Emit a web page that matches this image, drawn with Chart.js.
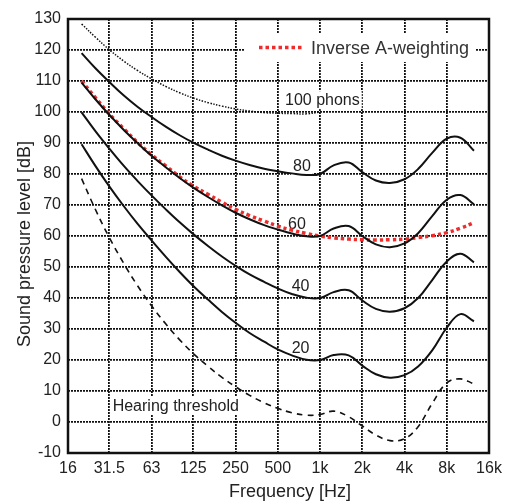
<!DOCTYPE html>
<html lang="en">
<head>
<meta charset="UTF-8">
<title>Equal-loudness contours</title>
<style>
  body { margin: 0; background: #fff; }
  #wrap { width: 508px; height: 502px; }
</style>
</head>
<body>
<div id="wrap"><canvas id="chart" width="508" height="502"></canvas></div>
<script src="https://cdn.jsdelivr.net/npm/chart.js"></script>
<script>
// frequencies (Hz) of the contour points
const freqs = [20, 25, 31.5, 40, 50, 63, 80, 100, 125, 160, 200, 250, 315, 400, 500, 630, 800,
               1000, 1250, 1600, 2000, 2500, 3150, 4000, 5000, 6300, 8000, 10000, 12500];

// sound pressure level (dB) per contour
const phon100 = [128.4, 124.2, 120.1, 116.4, 113.4, 110.7, 108.2, 106.2, 104.5, 103.0, 101.9, 101.0,
                 100.3, 99.8, 99.6, 99.5, 99.4, 100.0];
const phon80 = [119.0, 114.2, 109.7, 105.3, 101.7, 98.4, 95.2, 92.5, 90.1, 87.8, 85.9, 84.3, 82.9, 81.7,
                80.9, 80.2, 79.7, 80.0, 82.8, 83.7, 80.6, 77.9, 77.1, 78.3, 81.6, 86.8, 91.4, 91.7, 87.5];
const phon60 = [109.5, 104.2, 99.1, 94.2, 90.0, 85.9, 82.1, 78.7, 75.6, 72.5, 69.9, 67.5, 65.4, 63.5,
                62.1, 60.8, 59.9, 60.0, 62.4, 63.2, 60.0, 57.3, 56.4, 57.6, 60.9, 66.4, 71.7, 73.2, 70.2];
const phon40 = [99.9, 93.9, 88.2, 82.6, 77.8, 73.1, 68.5, 64.4, 60.6, 56.7, 53.4, 50.4, 47.6, 45.2,
                43.1, 41.3, 40.1, 40.0, 41.9, 42.5, 39.2, 36.5, 35.6, 36.7, 40.0, 45.8, 51.8, 54.3, 51.5];
const phon20 = [89.6, 82.7, 76.0, 69.6, 64.0, 58.6, 53.2, 48.4, 43.9, 39.4, 35.5, 32.0, 28.7, 25.9,
                23.4, 21.5, 20.1, 20.0, 21.6, 21.5, 18.2, 15.4, 14.3, 15.1, 17.9, 23.1, 30.4, 34.8, 32.5];
const threshold = [78.5, 68.7, 59.5, 51.1, 44.0, 37.5, 31.5, 26.5, 22.1, 17.9, 14.4, 11.4, 8.6, 6.2,
                   4.4, 3.0, 2.2, 2.4, 3.5, 1.7, -1.3, -4.2, -6.0, -5.4, -1.5, 6.0, 12.6, 13.9, 12.3];
const inverseA = [110.0, 104.7, 99.4, 94.6, 90.2, 86.2, 82.5, 79.1, 76.1, 73.4, 70.9, 68.6, 66.6, 64.8,
                  63.2, 61.9, 60.8, 60.0, 59.4, 59.0, 58.8, 58.7, 58.8, 59.0, 59.5, 60.1, 61.1, 62.5, 64.3];

const xTicks = [16, 31.5, 63, 125, 250, 500, 1000, 2000, 4000, 8000, 16000];
const xTickLabels = ['16', '31.5', '63', '125', '250', '500', '1k', '2k', '4k', '8k', '16k'];

// in-plot labels, anchored at (frequency, dB) of their left baseline
const curveLabels = [
  { text: '100 phons', f: 563, db: 102.2 },
  { text: '80', f: 642, db: 81.0 },
  { text: '60', f: 592, db: 62.2 },
  { text: '40', f: 628, db: 42.4 },
  { text: '20', f: 628, db: 22.2 },
  { text: 'Hearing threshold', f: 33.3, db: 3.65 }
];

const FONT = "'Liberation Sans', Arial, sans-serif";
const INK = '#222';

function pts(vals) {
  return vals.map((v, i) => ({ x: freqs[i], y: v }));
}

function line(vals, opts) {
  return Object.assign({
    data: pts(vals),
    borderColor: '#111',
    borderWidth: 2,
    pointRadius: 0,
    tension: 0.4,
    fill: false
  }, opts);
}

const decor = {
  id: 'decor',
  beforeDatasetsDraw(chart) {
    const { ctx, scales: { x, y } } = chart;
    ctx.save();
    ctx.font = '16px ' + FONT;
    ctx.textBaseline = 'alphabetic';
    curveLabels.forEach(l => {
      const px = x.getPixelForValue(l.f);
      const py = y.getPixelForValue(l.db);
      const w = ctx.measureText(l.text).width;
      ctx.fillStyle = '#fff';
      ctx.fillRect(px - 2, py - 14, w + 4, 18);
      ctx.fillStyle = INK;
      ctx.fillText(l.text, px, py);
    });

    // legend
    ctx.fillStyle = '#fff';
    ctx.fillRect(244, 33, 231, 29);
    ctx.strokeStyle = '#ee2c2c';
    ctx.lineWidth = 3.5;
    ctx.setLineDash([3.5, 3]);
    ctx.beginPath();
    ctx.moveTo(259, 47.5);
    ctx.lineTo(304, 47.5);
    ctx.stroke();
    ctx.setLineDash([]);
    ctx.fillStyle = '#333';
    ctx.font = '18px ' + FONT;
    ctx.fillText('Inverse A-weighting', 311, 54.3);
    ctx.restore();
  },
  afterDraw(chart) {
    const { ctx, chartArea: a } = chart;
    ctx.save();
    ctx.strokeStyle = '#111';
    ctx.lineWidth = 2.5;
    ctx.strokeRect(a.left, a.top, a.right - a.left, a.bottom - a.top);

    ctx.fillStyle = INK;
    ctx.font = '18px ' + FONT;
    ctx.textAlign = 'center';
    ctx.textBaseline = 'alphabetic';
    ctx.fillText('Frequency [Hz]', 290, 497);
    ctx.translate(30, 244);
    ctx.rotate(-Math.PI / 2);
    ctx.fillText('Sound pressure level [dB]', 0, 0);
    ctx.restore();
  }
};

new Chart(document.getElementById('chart'), {
  type: 'line',
  data: {
    datasets: [
      line(phon100, { data: phon100.map((v, i) => ({ x: freqs[i], y: v })), borderWidth: 1.5, borderDash: [1.5, 1.5] }),
      line(phon80),
      line(phon60),
      line(phon40),
      line(phon20),
      line(threshold, { borderWidth: 1.6, borderDash: [6, 5] }),
      line(inverseA, { borderColor: '#ee2c2c', borderWidth: 3.5, borderDash: [3.5, 3] })
    ]
  },
  options: {
    responsive: false,
    animation: false,
    devicePixelRatio: 1,
    layout: { padding: { top: 19, right: 19, left: 0, bottom: 0 } },
    plugins: { legend: { display: false }, tooltip: { enabled: false } },
    scales: {
      x: {
        type: 'logarithmic',
        min: 16,
        max: 16000,
        afterBuildTicks(scale) {
          scale.ticks = xTicks.map(v => ({ value: v }));
        },
        afterFit(scale) { scale.height = 49; },
        ticks: {
          autoSkip: false,
          maxRotation: 0,
          padding: 6,
          color: INK,
          font: { family: FONT, size: 16 },
          callback: (v, i) => xTickLabels[i]
        },
        grid: { color: '#111', lineWidth: 1.8, drawTicks: false },
        border: { display: false, dash: [2, 1] }
      },
      y: {
        min: -10,
        max: 130,
        afterFit(scale) { scale.width = 68; },
        ticks: {
          stepSize: 10,
          padding: 7,
          color: INK,
          font: { family: FONT, size: 16 }
        },
        grid: { color: '#111', lineWidth: 1.8, drawTicks: false },
        border: { display: false, dash: [2, 1] }
      }
    }
  },
  plugins: [decor]
});
</script>
</body>
</html>
